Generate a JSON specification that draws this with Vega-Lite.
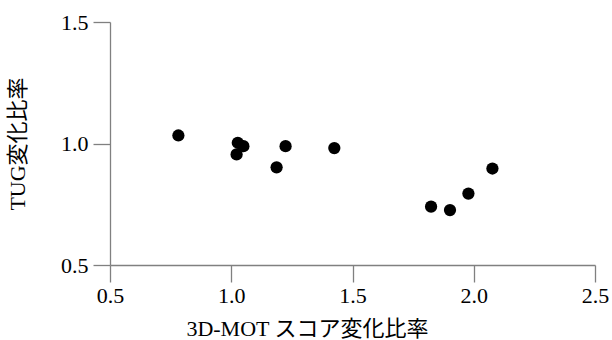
{
  "$schema": "https://vega.github.io/schema/vega-lite/v6.json",
  "width": 485,
  "height": 243,
  "autosize": "none",
  "padding": {"left": 110, "top": 22, "right": 17, "bottom": 75},
  "background": "white",
  "config": {
    "view": {"stroke": null},
    "axis": {
      "grid": false,
      "domainColor": "#808080",
      "tickColor": "#808080",
      "domainWidth": 1.3,
      "tickWidth": 1.3,
      "tickSize": 17,
      "labelFont": "Liberation Serif",
      "labelFontSize": 22,
      "labelColor": "black",
      "titleFont": "Liberation Serif, Noto Sans CJK JP",
      "titleFontSize": 22,
      "titleFontWeight": "normal",
      "titleColor": "black",
      "labelFlush": false,
      "labelOverlap": false
    }
  },
  "data": {
    "values": [
      {"mot": 0.782, "tug": 1.033},
      {"mot": 1.027, "tug": 1.003},
      {"mot": 1.050, "tug": 0.989},
      {"mot": 1.022, "tug": 0.955},
      {"mot": 1.187, "tug": 0.902},
      {"mot": 1.224, "tug": 0.989},
      {"mot": 1.425, "tug": 0.981},
      {"mot": 1.824, "tug": 0.740},
      {"mot": 1.902, "tug": 0.726},
      {"mot": 1.978, "tug": 0.794},
      {"mot": 2.077, "tug": 0.897}
    ]
  },
  "mark": {"type": "circle", "size": 150, "color": "black", "opacity": 1},
  "encoding": {
    "x": {
      "field": "mot", "type": "quantitative",
      "scale": {"domain": [0.5, 2.5], "nice": false, "zero": false},
      "axis": {"values": [0.5, 1.0, 1.5, 2.0, 2.5], "format": ".1f", "title": "3D-MOT スコア変化比率", "labelPadding": 3, "titlePadding": 12, "titleX": 197, "titleAlign": "center"}
    },
    "y": {
      "field": "tug", "type": "quantitative",
      "scale": {"domain": [0.5, 1.5], "nice": false, "zero": false},
      "axis": {"values": [0.5, 1.0, 1.5], "format": ".1f", "title": "TUG変化比率", "labelPadding": 5, "titlePadding": 31}
    }
  }
}
